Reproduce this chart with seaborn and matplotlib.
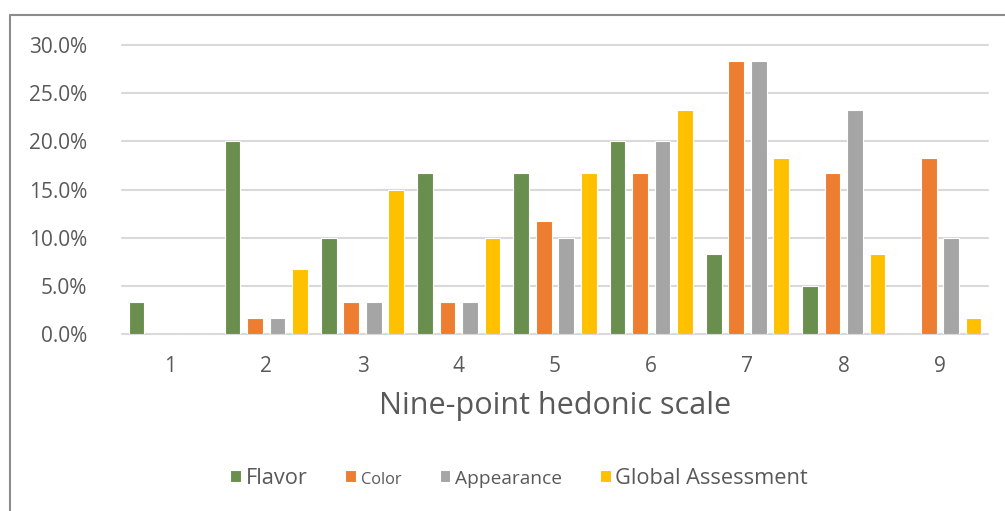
import matplotlib
matplotlib.use("Agg")
import matplotlib.pyplot as plt
import seaborn as sns
import pandas as pd
from matplotlib.lines import Line2D
from matplotlib.ticker import FuncFormatter

categories = ["1", "2", "3", "4", "5", "6", "7", "8", "9"]
series_names = ["Flavor", "Color", "Appearance", "Global Assessment"]
flavor = [0.033, 0.200, 0.100, 0.167, 0.167, 0.200, 0.083, 0.050, 0.000]
color = [0.000, 0.017, 0.033, 0.033, 0.117, 0.167, 0.283, 0.167, 0.183]
appearance = [0.000, 0.017, 0.033, 0.033, 0.100, 0.200, 0.283, 0.233, 0.100]
global_assessment = [0.000, 0.067, 0.150, 0.100, 0.167, 0.233, 0.183, 0.083, 0.017]
yticks = [0.0, 0.05, 0.10, 0.15, 0.20, 0.25, 0.30]
x_title = "Nine-point hedonic scale"

palette = ["#6A8E4E", "#ED7D31", "#A5A5A5", "#FFC000"]
legend_sizes = {"Flavor": 15.7, "Color": 11.8, "Appearance": 13.8, "Global Assessment": 15.7}

rows = []
for name, vals in zip(series_names, [flavor, color, appearance, global_assessment]):
    for c, v in zip(categories, vals):
        rows.append({"scale": c, "series": name, "value": v})
df = pd.DataFrame(rows)

sns.set_style("white")
plt.rcParams["font.family"] = ["Open Sans", "DejaVu Sans"]
txt = "#595959"

fig = plt.figure(figsize=(10.05, 5.11), dpi=100)
ax = fig.add_axes([122 / 1005, 1 - 334 / 511, (988 - 122) / 1005, (334 - 45) / 511])

sns.barplot(data=df, x="scale", y="value", hue="series", order=categories,
            hue_order=series_names, palette=palette, width=0.935, gap=0.3,
            edgecolor="white", linewidth=0.8, saturation=1, ax=ax, legend=True,
            errorbar=None)

ax.set_ylim(0, 0.30)
ax.set_xlim(-0.5, 8.5)
ax.set_yticks(yticks)
ax.yaxis.set_major_formatter(FuncFormatter(lambda v, p: f"{v*100:.1f}%"))
ax.yaxis.grid(True, color="#D9D9D9", linewidth=1.5)
ax.set_axisbelow(True)
for gl in ax.get_ygridlines():
    gl.set_clip_on(False)
for s in ax.spines.values():
    s.set_visible(False)
ax.tick_params(axis="both", length=0, colors=txt, labelsize=15)
ax.tick_params(axis="y", pad=25)
ax.tick_params(axis="x", pad=16)
ax.set_ylabel("")
ax.set_xlabel(x_title, fontsize=22, color=txt, labelpad=10)

handles, labels = ax.get_legend_handles_labels()
ax.get_legend().remove()
leg = fig.legend(handles, labels, loc="center", bbox_to_anchor=(519 / 1005, 1 - 478 / 511),
                 ncol=4, frameon=False, fontsize=15.7, handlelength=0.5, handleheight=0.5,
                 handletextpad=0.2, columnspacing=1.75, labelcolor=txt)
for t in leg.get_texts():
    t.set_fontsize(legend_sizes[t.get_text()])

# outer chart border (left and top)
fig.add_artist(Line2D([10 / 1005, 10 / 1005], [0, 1 - 15 / 511], color="#8C8C8C", linewidth=1.5))
fig.add_artist(Line2D([10 / 1005, 1.0], [1 - 15 / 511, 1 - 15 / 511], color="#8C8C8C", linewidth=1.5))

fig.savefig("out.png", dpi=100)
